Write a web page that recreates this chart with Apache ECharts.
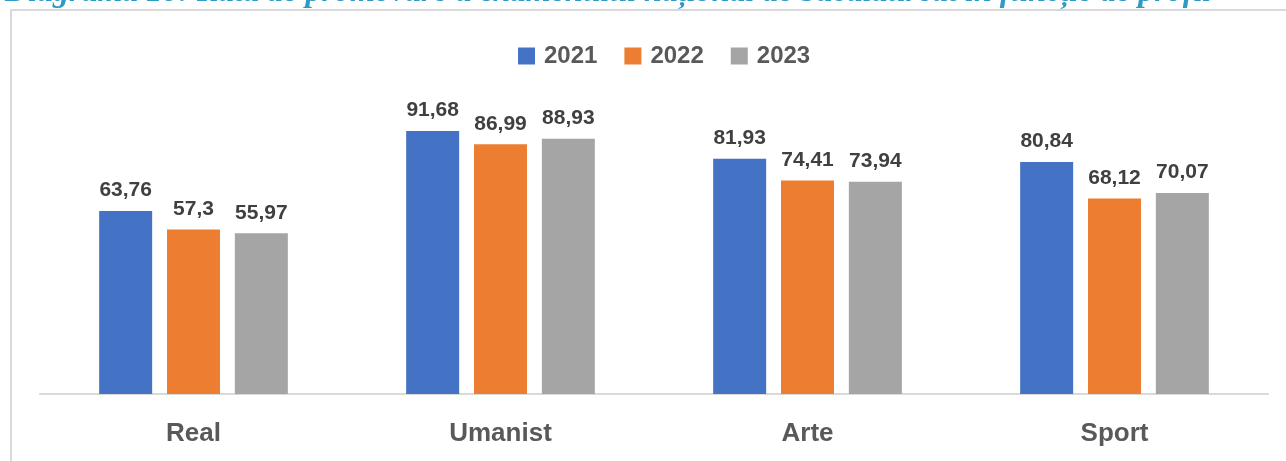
<!DOCTYPE html>
<html>
<head>
<meta charset="utf-8">
<script src="https://cdn.jsdelivr.net/npm/echarts@6/dist/echarts.min.js"></script>
<style>
  html, body { margin: 0; padding: 0; background: #fff; }
  #main { width: 1286px; height: 461px; }
</style>
</head>
<body>
<div id="main"></div>
<script>
// date
var categories = ['Real', 'Umanist', 'Arte', 'Sport'];
var years = ['2021', '2022', '2023'];
var values2021 = [63.76, 91.68, 81.93, 80.84];
var values2022 = [57.3, 86.99, 74.41, 68.12];
var values2023 = [55.97, 88.93, 73.94, 70.07];
var titleText = 'Diagrama 10: Rata de promovare a examenului național de bacalaureat în funcție de profil';

var narrow = '"Liberation Sans Narrow", "Arial Narrow", "Liberation Sans", sans-serif';
var colors = ['#4472C4', '#ED7D31', '#A5A5A5'];

function fmt(p) {
  return String(p.value).replace('.', ',');
}

function makeSeries(name, data) {
  return {
    name: name,
    type: 'bar',
    barWidth: 53,
    barGap: '28%',
    data: data,
    label: {
      show: true,
      position: 'top',
      distance: 10,
      formatter: fmt,
      color: '#404040',
      fontFamily: narrow,
      fontWeight: 'bold',
      fontSize: 21
    }
  };
}

var myChart = echarts.init(document.getElementById('main'));

var option = {
  backgroundColor: '#fff',
  color: colors,
  animation: false,
  graphic: [
    {
      type: 'rect',
      shape: { x: 11, y: 10, width: 1400, height: 600 },
      style: { fill: 'none', stroke: '#d9d9d9', lineWidth: 2 },
      z: 0
    },
    {
      type: 'text',
      left: 5,
      top: -23,
      style: {
        text: titleText,
        fill: '#2E9BC6',
        font: 'italic bold 32px "Liberation Serif", "DejaVu Serif", serif'
      }
    }
  ],
  legend: {
    top: 39,
    left: 513,
    itemWidth: 17,
    itemHeight: 17,
    itemGap: 27,
    icon: 'rect',
    textStyle: {
      color: '#595959',
      fontFamily: narrow,
      fontWeight: 'bold',
      fontSize: 24,
      padding: [0, 0, 0, 4]
    },
    data: years
  },
  grid: {
    left: 40,
    right: 18,
    top: 107,
    bottom: 67
  },
  xAxis: {
    type: 'category',
    data: categories,
    axisLine: { lineStyle: { color: '#d9d9d9', width: 2 } },
    axisTick: { show: false },
    axisLabel: {
      color: '#595959',
      fontFamily: narrow,
      fontWeight: 'bold',
      fontSize: 26,
      margin: 27
    }
  },
  yAxis: {
    type: 'value',
    min: 0,
    max: 100,
    show: false,
    splitLine: { show: false }
  },
  series: [
    makeSeries(years[0], values2021),
    makeSeries(years[1], values2022),
    makeSeries(years[2], values2023)
  ]
};

myChart.setOption(option);
</script>
</body>
</html>
